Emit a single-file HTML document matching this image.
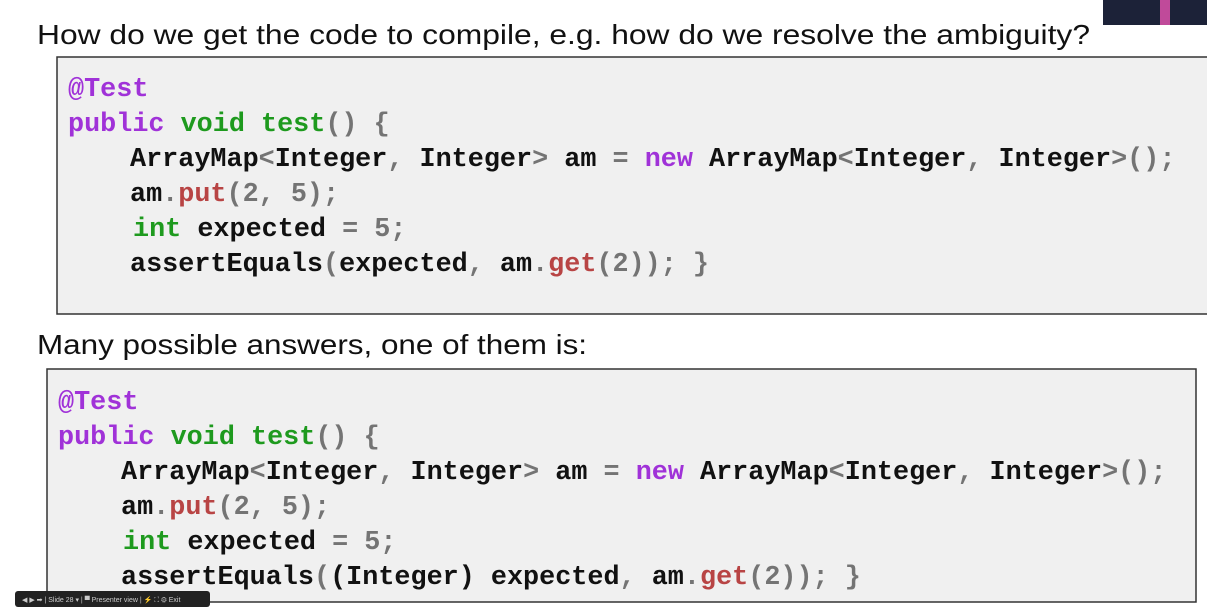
<!DOCTYPE html>
<html><head><meta charset="utf-8"><style>
html,body{margin:0;padding:0;background:#fff;width:1207px;height:608px;overflow:hidden}
svg{display:block}
.t{font-family:"Liberation Sans",sans-serif;font-size:28px;fill:#111}
.c{font-family:"Liberation Mono",monospace;font-weight:bold;font-size:26.8px;fill:#111;white-space:pre}
.P{fill:#a032d8}.G{fill:#1e9a1e}.R{fill:#b84444}.g{fill:#747474}
</style></head><body>
<svg width="1207" height="608" viewBox="0 0 1207 608" xmlns="http://www.w3.org/2000/svg">
<rect x="1103" y="0" width="104" height="25" fill="#1c2238"/>
<rect x="1160" y="0" width="10" height="25" fill="#c04a9a"/>
<text class="t" x="37" y="44" textLength="1053" lengthAdjust="spacingAndGlyphs">How do we get the code to compile, e.g. how do we resolve the ambiguity?</text>
<rect x="57" y="57" width="1152" height="257" fill="#f0f0f0" stroke="#333" stroke-width="1.5"/>
<text class="c" xml:space="preserve">
<tspan x="68" y="96" class="P">@Test</tspan>
<tspan x="68" y="131"><tspan class="P">public</tspan> <tspan class="G">void test</tspan><tspan class="g">()</tspan> <tspan class="g">{</tspan></tspan>
<tspan x="130" y="166">ArrayMap<tspan class="g">&lt;</tspan>Integer<tspan class="g">,</tspan> Integer<tspan class="g">&gt;</tspan> am <tspan class="g">=</tspan> <tspan class="P">new</tspan> ArrayMap<tspan class="g">&lt;</tspan>Integer<tspan class="g">,</tspan> Integer<tspan class="g">&gt;();</tspan></tspan>
<tspan x="130" y="201">am<tspan class="g">.</tspan><tspan class="R">put</tspan><tspan class="g">(2, 5);</tspan></tspan>
<tspan x="133" y="236"><tspan class="G">int</tspan> expected <tspan class="g">= 5;</tspan></tspan>
<tspan x="130" y="271">assertEquals<tspan class="g">(</tspan>expected<tspan class="g">,</tspan> am<tspan class="g">.</tspan><tspan class="R">get</tspan><tspan class="g">(2)); }</tspan></tspan>
</text>
<text class="t" x="37" y="354" textLength="550" lengthAdjust="spacingAndGlyphs">Many possible answers, one of them is:</text>
<rect x="47" y="369" width="1149" height="233" fill="#f0f0f0" stroke="#333" stroke-width="1.5"/>
<text class="c" xml:space="preserve">
<tspan x="58" y="409" class="P">@Test</tspan>
<tspan x="58" y="444"><tspan class="P">public</tspan> <tspan class="G">void test</tspan><tspan class="g">()</tspan> <tspan class="g">{</tspan></tspan>
<tspan x="121" y="479">ArrayMap<tspan class="g">&lt;</tspan>Integer<tspan class="g">,</tspan> Integer<tspan class="g">&gt;</tspan> am <tspan class="g">=</tspan> <tspan class="P">new</tspan> ArrayMap<tspan class="g">&lt;</tspan>Integer<tspan class="g">,</tspan> Integer<tspan class="g">&gt;();</tspan></tspan>
<tspan x="121" y="514">am<tspan class="g">.</tspan><tspan class="R">put</tspan><tspan class="g">(2, 5);</tspan></tspan>
<tspan x="123" y="549"><tspan class="G">int</tspan> expected <tspan class="g">= 5;</tspan></tspan>
<tspan x="121" y="584">assertEquals<tspan class="g">(</tspan>(Integer) expected<tspan class="g">,</tspan> am<tspan class="g">.</tspan><tspan class="R">get</tspan><tspan class="g">(2)); }</tspan></tspan>
</text>
<rect x="15" y="591" width="195" height="16" rx="3" fill="#222"/>
<text x="22" y="602" font-family="Liberation Sans,sans-serif" font-size="7" fill="#ccc">◀ ▶ ➡ | Slide 28 ▾ | ▀ Presenter view | ⚡ ⛶ ⚙ Exit</text>
</svg>
</body></html>
